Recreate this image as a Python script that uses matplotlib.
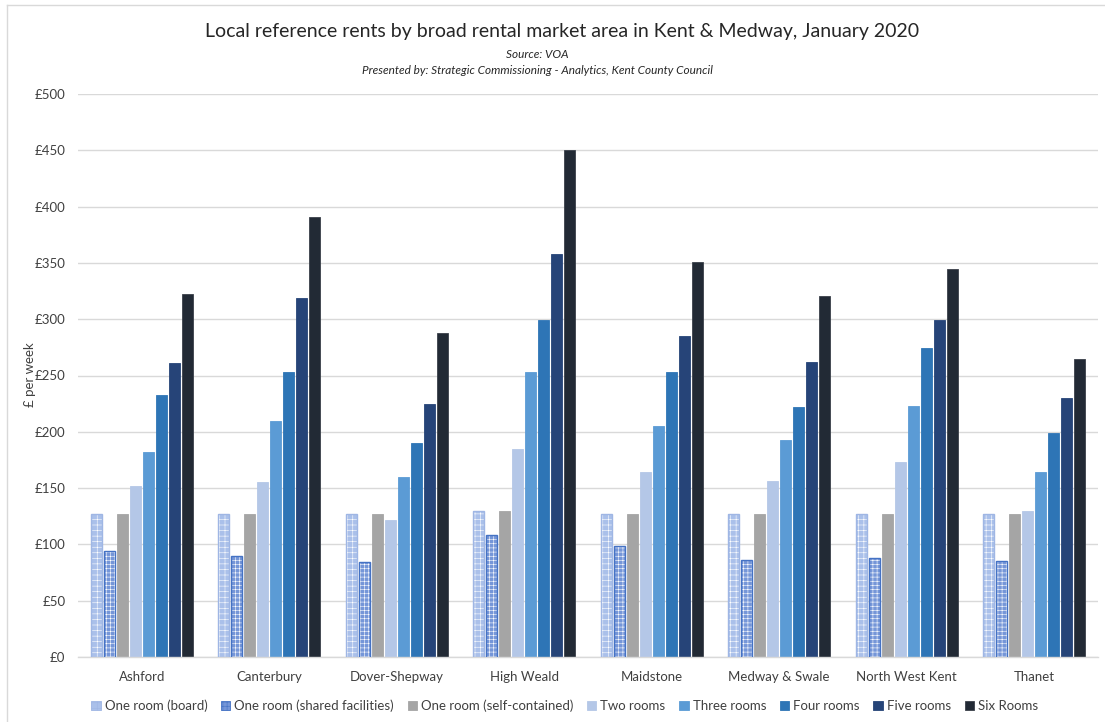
import numpy as np
import matplotlib
matplotlib.use("Agg")
import matplotlib.pyplot as plt
from matplotlib.patches import Patch

plt.rcParams['font.family'] = ['Lato', 'DejaVu Sans']
plt.rcParams['hatch.linewidth'] = 0.4

areas = ['Ashford', 'Canterbury', 'Dover-Shepway', 'High Weald', 'Maidstone',
         'Medway & Swale', 'North West Kent', 'Thanet']

room_types = ['One room (board)', 'One room (shared facilities)', 'One room (self-contained)',
              'Two rooms', 'Three rooms', 'Four rooms', 'Five rooms', 'Six Rooms']

# weekly rent (GBP), one list per room type, in area order
one_board = [127, 127, 127, 130, 127, 127, 127, 127]
one_shared = [94, 90, 84, 108, 99, 86, 88, 85]
one_self = [127, 127, 127, 130, 127, 127, 127, 127]
two_rooms = [152, 155, 122, 185, 164, 156, 173, 130]
three_rooms = [182, 210, 160, 253, 205, 193, 223, 164]
four_rooms = [233, 253, 190, 299, 253, 222, 274, 199]
five_rooms = [261, 319, 225, 358, 285, 262, 299, 230]
six_rooms = [322, 391, 288, 450, 351, 321, 345, 265]

series = [one_board, one_shared, one_self, two_rooms, three_rooms,
          four_rooms, five_rooms, six_rooms]

faces = ['#aac0ea', '#7596d8', '#a5a5a5', '#b4c7e7', '#5b9bd5', '#2e75b6', '#264478', '#222a35']
edges = ['#9fb6e4', '#4472c4', '#a5a5a5', '#b4c7e7', '#5b9bd5', '#2e75b6', '#264478', '#3a404a']
hatches = ['+++', '++++', None, None, None, None, None, None]

fig = plt.figure(figsize=(11.05, 7.22), dpi=100)
ax = fig.add_axes([78 / 1105, 1 - 657 / 722, 1020 / 1105, 563 / 722])

x = np.arange(len(areas))
step = 0.102
width = 0.083
for i, vals in enumerate(series):
    pos = x + (i - 3.5) * step
    if hatches[i]:
        ax.bar(pos, vals, width, color=faces[i], edgecolor='white',
               hatch=hatches[i], linewidth=0, zorder=2)
        ax.bar(pos, vals, width, fill=False, edgecolor=edges[i],
               linewidth=1.0, zorder=3)
    else:
        ax.bar(pos, vals, width, color=faces[i], edgecolor=edges[i],
               linewidth=0.6, zorder=2)

ax.set_xlim(-0.5, len(areas) - 0.5)
ax.set_ylim(0, 500)
ax.set_yticks(np.arange(0, 501, 50))
ax.set_yticklabels(['£{}'.format(v) for v in range(0, 501, 50)])
ax.set_xticks(x)
ax.set_xticklabels(areas)
ax.tick_params(axis='both', length=0, labelsize=9.5, colors='#404040')
ax.tick_params(axis='y', pad=9)
ax.tick_params(axis='x', pad=10)
ax.grid(axis='y', color='#d9d9d9', linewidth=1, zorder=0)
ax.set_axisbelow(True)
for side in ['top', 'right', 'left']:
    ax.spines[side].set_visible(False)
ax.spines['bottom'].set_color('#d9d9d9')
ax.spines['bottom'].set_linewidth(1)

fig.text(30 / 1105, 1 - 375 / 722, '£ per week', rotation=90, ha='center', va='center',
         fontsize=9.5, color='#404040')

fig.text(0.509, 1 - 31 / 722, 'Local reference rents by broad rental market area in Kent & Medway, January 2020',
         ha='center', va='center', fontsize=14, color='#262626')
fig.text(0.486, 1 - 55 / 722, 'Source: VOA', ha='center', va='center',
         fontsize=8.5, style='italic', color='#262626')
fig.text(0.486, 1 - 70 / 722, 'Presented by: Strategic Commissioning - Analytics, Kent County Council',
         ha='center', va='center', fontsize=8.5, style='italic', color='#262626')

# outer chart frame
fig.add_artist(plt.Line2D([7 / 1105, 7 / 1105], [0, 1 - 5 / 722], color='#d9d9d9', linewidth=1,
                          transform=fig.transFigure))
fig.add_artist(plt.Line2D([7 / 1105, 1], [1 - 5 / 722, 1 - 5 / 722], color='#d9d9d9', linewidth=1,
                          transform=fig.transFigure))

handles = []
for i in range(len(room_types)):
    handles.append(Patch(facecolor=faces[i], edgecolor=edges[i], hatch=hatches[i], linewidth=0.6))
fig.legend(handles, room_types, loc='center', bbox_to_anchor=(0.511, 1 - 706 / 722), ncol=8,
           frameon=False, fontsize=9.5, handlelength=0.7, handleheight=0.7, handletextpad=0.3,
           columnspacing=1.05, labelcolor='#404040')

fig.savefig('out.png', dpi=100)
